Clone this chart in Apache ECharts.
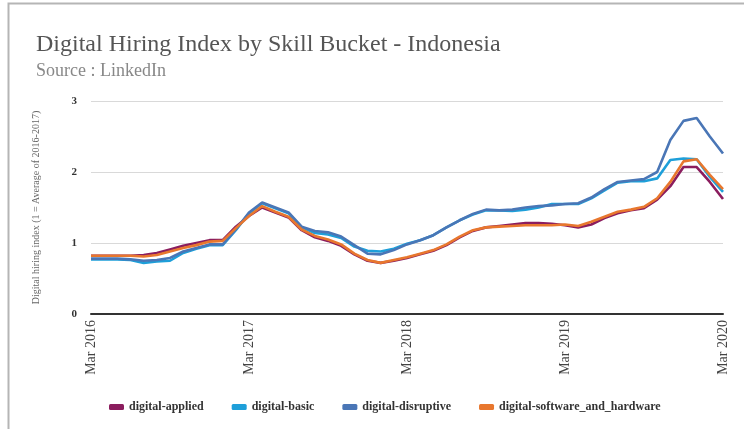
<!DOCTYPE html>
<html>
<head>
<meta charset="utf-8">
<script src="https://cdn.jsdelivr.net/npm/echarts@6/dist/echarts.min.js"></script>
<style>
html,body{margin:0;padding:0;background:#fff;}
#chart{width:744px;height:429px;}
</style>
</head>
<body>
<div id="chart"></div>
<script>
var monthNames = ['Jan','Feb','Mar','Apr','May','Jun','Jul','Aug','Sep','Oct','Nov','Dec'];
var categories = [];
for (var k = 0; k < 49; k++) {
  var m = (2 + k) % 12;
  var y = 2016 + Math.floor((2 + k) / 12);
  categories.push(monthNames[m] + ' ' + y);
}
var seriesNames = ['digital-applied','digital-basic','digital-disruptive','digital-software_and_hardware'];
var applied = [0.82,0.82,0.82,0.82,0.83,0.86,0.91,0.96,1.00,1.04,1.04,1.23,1.38,1.50,1.43,1.36,1.18,1.08,1.03,0.96,0.84,0.75,0.72,0.75,0.79,0.84,0.89,0.97,1.08,1.17,1.22,1.24,1.26,1.28,1.28,1.27,1.25,1.22,1.26,1.35,1.42,1.46,1.49,1.61,1.80,2.07,2.07,1.86,1.62];
var basic = [0.77,0.77,0.77,0.76,0.72,0.74,0.75,0.86,0.92,0.97,0.97,1.18,1.42,1.56,1.49,1.42,1.22,1.14,1.12,1.07,0.95,0.89,0.88,0.92,0.99,1.04,1.11,1.22,1.32,1.40,1.46,1.46,1.45,1.47,1.50,1.55,1.55,1.55,1.63,1.74,1.85,1.87,1.87,1.91,2.17,2.19,2.18,1.93,1.72];
var disruptive = [0.78,0.78,0.78,0.77,0.75,0.76,0.79,0.88,0.93,0.98,0.98,1.19,1.43,1.57,1.50,1.43,1.23,1.17,1.15,1.09,0.97,0.85,0.84,0.90,0.98,1.04,1.11,1.22,1.32,1.41,1.47,1.46,1.47,1.50,1.52,1.53,1.55,1.56,1.64,1.76,1.86,1.88,1.90,2.00,2.45,2.72,2.76,2.50,2.26];
var software = [0.82,0.82,0.82,0.82,0.81,0.83,0.88,0.93,0.97,1.02,1.03,1.21,1.38,1.52,1.44,1.37,1.19,1.10,1.05,0.98,0.85,0.76,0.72,0.76,0.80,0.85,0.90,0.98,1.09,1.18,1.22,1.23,1.24,1.25,1.25,1.25,1.26,1.24,1.30,1.37,1.44,1.47,1.51,1.63,1.86,2.15,2.18,1.96,1.76];
var colors = ['#8B1D5E','#1E9FD9','#4A76B6','#E8772E'];
var yTicks = [0,1,2,3];

var serif = '"Liberation Serif", "DejaVu Serif", serif';
var chart = echarts.init(document.getElementById('chart'), null, {renderer:'canvas'});
var dataSets = [applied, basic, disruptive, software];
var series = seriesNames.map(function(n, i){
  return {
    name: n, type: 'line', data: dataSets[i], showSymbol: false, symbol: 'none',
    lineStyle: {width: 2.6, color: colors[i]}, itemStyle: {color: colors[i]},
    smooth: false
  };
});
chart.setOption({
  animation: false,
  backgroundColor: '#fff',
  graphic: [{
    type: 'rect', left: 6, top: 1, shape: {x:0, y:0, width: 760, height: 460},
    style: {fill: 'none', stroke: '#b5b5b5', lineWidth: 2}, silent: true
  }],
  title: {
    text: 'Digital Hiring Index by Skill Bucket - Indonesia',
    subtext: 'Source : LinkedIn',
    left: 31, top: 28,
    itemGap: 5,
    textStyle: {fontFamily: serif, fontSize: 24, fontWeight: 'normal', color: '#555'},
    subtextStyle: {fontFamily: serif, fontSize: 18, color: '#888'}
  },
  legend: {
    data: seriesNames,
    left: 104, top: 396,
    itemWidth: 15, itemHeight: 6, itemGap: 28,
    icon: 'roundRect',
    textStyle: {fontFamily: serif, fontSize: 12, fontWeight: 'bold', color: '#333'}
  },
  grid: {left: 91, right: 21, top: 101, bottom: 115, containLabel: false},
  xAxis: {
    type: 'category', data: categories, boundaryGap: false,
    axisLine: {lineStyle: {color: '#333', width: 2}},
    axisTick: {show: false},
    axisLabel: {
      interval: function(idx){ return idx % 12 === 0; },
      rotate: 90, fontFamily: serif, fontSize: 14, color: '#444', margin: 6
    },
    splitLine: {show: false}
  },
  yAxis: {
    type: 'value', min: yTicks[0], max: yTicks[yTicks.length-1], interval: 1,
    name: 'Digital hiring index (1 = Average of 2016-2017)',
    nameLocation: 'middle', nameGap: 50,
    nameTextStyle: {fontFamily: serif, fontSize: 10, color: '#666'},
    axisLine: {show: false}, axisTick: {show: false},
    axisLabel: {fontFamily: serif, fontSize: 11, fontWeight: 'bold', color: '#333', margin: 14},
    splitLine: {lineStyle: {color: '#d9d9d9', width: 1}}
  },
  series: series
});
</script>
</body>
</html>
